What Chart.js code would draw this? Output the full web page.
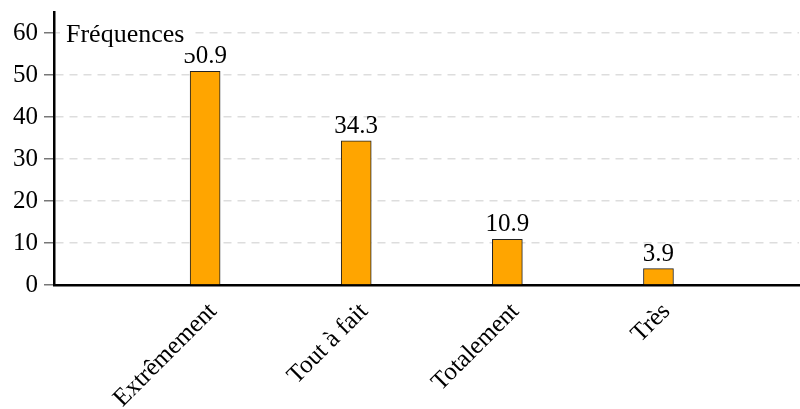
<!DOCTYPE html>
<html>
<head>
<meta charset="utf-8">
<script src="https://cdn.jsdelivr.net/npm/chart.js@4"></script>
<style>
  html, body { margin: 0; padding: 0; background: #fff; }
  #cadre { width: 800px; height: 409px; }
</style>
</head>
<body>
<div id="cadre"><canvas id="graficoFrequences"></canvas></div>
<script>
// ============ Données ============
var categories = ["Extrêmement", "Tout à fait", "Totalement", "Très"];
var positions = [1, 2, 3, 4];
var frequences = [50.9, 34.3, 10.9, 3.9];
var ticksY = [0, 10, 20, 30, 40, 50, 60];
var titreAxeY = "Fréquences";

var policeSerif = "'Liberation Serif', 'DejaVu Serif', serif";

// ============ Étiquettes de valeurs + titre de l'axe ============
var pluginEtiquettes = {
  id: "etiquettes",
  afterDatasetsDraw(chart) {
    const ctx = chart.ctx;
    const meta = chart.getDatasetMeta(0);
    ctx.save();
    ctx.font = "25px " + policeSerif;
    ctx.fillStyle = "#000";
    ctx.textAlign = "center";
    ctx.textBaseline = "alphabetic";
    meta.data.forEach((bar, i) => {
      ctx.fillText(frequences[i].toFixed(1), bar.x, bar.y - 8);
    });

    // titre "Fréquences" sur fond blanc (masque le haut du 50.9)
    ctx.font = "26px " + policeSerif;
    const area = chart.chartArea;
    const yScale = chart.scales.y;
    const x0 = area.left + 12;
    const yBase = yScale.getPixelForValue(60) + 9;
    const w = ctx.measureText(titreAxeY).width;
    ctx.fillStyle = "#fff";
    ctx.fillRect(x0 - 6, yBase - 22, w + 16, 33);
    ctx.fillStyle = "#000";
    ctx.textAlign = "left";
    ctx.fillText(titreAxeY, x0, yBase);
    ctx.restore();
  }
};

var chartFrequences = new Chart(document.getElementById("graficoFrequences"), {
  type: "bar",
  data: {
    datasets: [{
      label: titreAxeY,
      data: positions.map((p, i) => ({ x: p, y: frequences[i] })),
      backgroundColor: "#FFA500",
      borderColor: "#222",
      borderWidth: 1,
      barThickness: 30
    }]
  },
  options: {
    responsive: true,
    maintainAspectRatio: false,
    animation: false,
    layout: { padding: { top: 12, right: 1, left: 0, bottom: 0 } },
    scales: {
      x: {
        type: "linear",
        min: 0,
        max: 4.93,
        offset: false,
        grid: { display: false },
        border: { display: true, color: "#000", width: 2.5 },
        afterBuildTicks: s => { s.ticks = positions.map(v => ({ value: v })); },
        afterFit: s => { s.height = 124; },
        ticks: {
          autoSkip: false,
          maxRotation: 45,
          minRotation: 45,
          padding: 4,
          labelOffset: 8,
          color: "#000",
          font: { family: policeSerif, size: 25 },
          callback: v => categories[v - 1] || ""
        }
      },
      y: {
        min: 0,
        max: 65,
        afterBuildTicks: s => { s.ticks = ticksY.map(v => ({ value: v })); },
        afterFit: s => { s.width = 54; s.paddingTop = 0; s.paddingBottom = 0; },
        border: { display: true, color: "#000", width: 2.5, dash: [8, 6] },
        grid: {
          color: "#dddddd",
          lineWidth: 1.5,
          tickLength: 10,
          tickColor: "#777",
          tickWidth: 1.5,
          tickBorderDash: []
        },
        ticks: {
          padding: 6,
          color: "#000",
          font: { family: policeSerif, size: 25 }
        }
      }
    },
    plugins: {
      legend: { display: false },
      tooltip: { enabled: false }
    }
  },
  plugins: [pluginEtiquettes]
});
</script>
</body>
</html>
